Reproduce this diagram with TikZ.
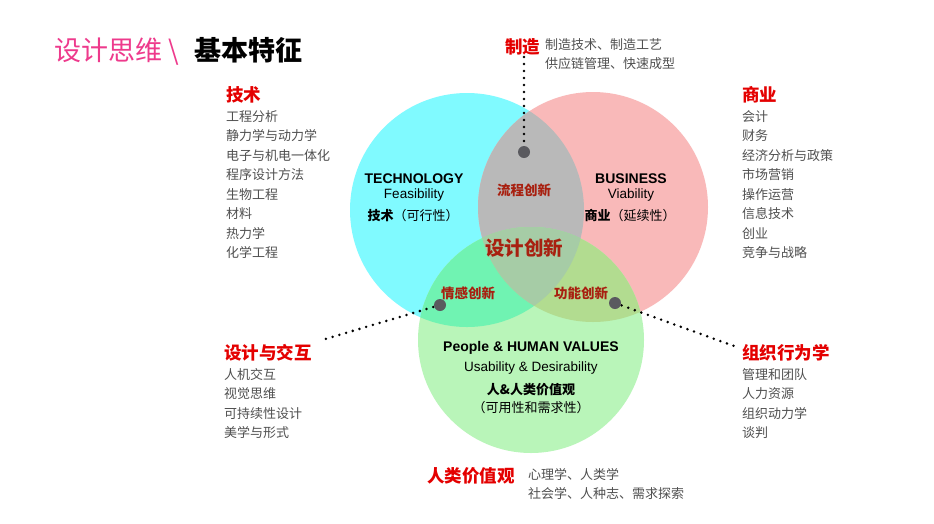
\documentclass[tikz,border=0pt]{standalone}
\usepackage{fontspec}
\setmainfont{Liberation Sans}
\newfontfamily\cjk{Noto Sans CJK SC}
\definecolor{cyanc}{HTML}{80FAFF}
\definecolor{pinkc}{HTML}{F9B9B9}
\definecolor{greenc}{HTML}{B9F5B9}
\definecolor{greyc}{HTML}{B9B9B9}
\definecolor{mintc}{HTML}{70F3B2}
\definecolor{olivec}{HTML}{B2DC90}
\definecolor{tric}{HTML}{A6CCA6}
\definecolor{dotc}{HTML}{5A5A5F}
\definecolor{titlepink}{HTML}{EE3A8C}
\definecolor{labred}{HTML}{E40000}
\definecolor{darkred}{HTML}{A82010}
\definecolor{itemgrey}{HTML}{505050}
\tikzset{
  redlab/.style={inner sep=0pt, anchor=base west, text=labred, font=\cjk\bfseries\fontsize{17.5}{20}\selectfont},
  itemlist/.style={inner sep=0pt, anchor=north west, align=left, text=itemgrey, font=\cjk\fontsize{13}{19.5}\selectfont},
  entitle/.style={inner sep=0pt, anchor=base, font=\bfseries\fontsize{14}{16}\selectfont},
  ensub/.style={inner sep=0pt, anchor=base, font=\fontsize{13.5}{16}\selectfont},
  zhsub/.style={inner sep=0pt, anchor=base, font=\cjk\fontsize{13}{16}\selectfont},
  innov/.style={inner sep=0pt, anchor=base, text=darkred, font=\cjk\bfseries\fontsize{13.5}{16}\selectfont},
  dotline/.style={line width=2.8pt, line cap=round, dash pattern=on 0pt off 7pt},
  bigdot/.style={circle, fill=dotc, minimum size=12pt, inner sep=0pt}
}
\begin{document}
\begin{tikzpicture}[x=1pt,y=-1pt]
\useasboundingbox[fill=white] (0,0) rectangle (934,523);
% circles
\def\cyanpath{(467,210) circle (117)}
\def\pinkpath{(593,207) circle (115)}
\def\greenpath{(531,340) circle (113)}
\fill[cyanc] \cyanpath;
\fill[pinkc] \pinkpath;
\fill[greenc] \greenpath;
\begin{scope}\clip \cyanpath; \fill[greyc] \pinkpath; \end{scope}
\begin{scope}\clip \cyanpath; \fill[mintc] \greenpath; \end{scope}
\begin{scope}\clip \pinkpath; \fill[olivec] \greenpath; \end{scope}
\begin{scope}\clip \cyanpath; \clip \pinkpath; \fill[tric] \greenpath; \end{scope}

% title
\node[inner sep=0pt, anchor=base west, text=titlepink, font=\cjk\fontsize{27}{30}\selectfont] (t1) at (54,60) {设计思维 \textbackslash};
\node[inner sep=0pt, anchor=base west, font=\cjk\bfseries\fontsize{27}{30}\selectfont] (t2) at (194,60) {基本特征};

% top: manufacturing
\node[redlab] (zz) at (505,53) {制造};
\node[inner sep=0pt, anchor=north west, align=left, text=itemgrey, font=\cjk\fontsize{13}{19.5}\selectfont] (zzl) at (545,38) {制造技术、制造工艺\\供应链管理、快速成型};

% technology
\node[redlab] (js) at (226,101) {技术};
\node[itemlist] (jsl) at (226,110) {工程分析\\静力学与动力学\\电子与机电一体化\\程序设计方法\\生物工程\\材料\\热力学\\化学工程};

% business
\node[redlab] (sy) at (742,101) {商业};
\node[itemlist] (syl) at (742,110) {会计\\财务\\经济分析与政策\\市场营销\\操作运营\\信息技术\\创业\\竞争与战略};

% design & interaction
\node[redlab] (sj) at (224,359) {设计与交互};
\node[itemlist] (sjl) at (224,368) {人机交互\\视觉思维\\可持续性设计\\美学与形式};

% org behaviour
\node[redlab] (zz2) at (742,359) {组织行为学};
\node[itemlist] (zzl2) at (742,368) {管理和团队\\人力资源\\组织动力学\\谈判};

% human values bottom
\node[redlab] (rl) at (427,482) {人类价值观};
\node[itemlist] (rll) at (528,468) {心理学、人类学\\社会学、人种志、需求探索};

% circle texts
\node[entitle] (tech) at (414,183) {TECHNOLOGY};
\node[ensub] (feas) at (414,198) {Feasibility};
\node[zhsub] (techzh) at (413,220) {{\bfseries 技术}（可行性）};
\node[entitle] (bus) at (631,183) {BUSINESS};
\node[ensub] (via) at (631,198) {Viability};
\node[zhsub] (buszh) at (630,220) {{\bfseries 商业}（延续性）};
\node[entitle] (ppl) at (531,351) {People \& HUMAN VALUES};
\node[ensub] (usab) at (531,371) {Usability \& Desirability};
\node[zhsub, font=\cjk\bfseries\fontsize{13}{16}\selectfont] (rzh) at (531,394) {人\&人类价值观};
\node[zhsub] (rzh2) at (531,412) {（可用性和需求性）};

\node[innov] (lc) at (524,195) {流程创新};
\node[innov, font=\cjk\bfseries\fontsize{19.5}{22}\selectfont] (sjcx) at (524,255) {设计创新};
\node[innov] (qg) at (468,298) {情感创新};
\node[innov] (gn) at (581,298) {功能创新};

% dots and dotted connectors
\coordinate (ztop) at (524,56);
\coordinate (lend) at (322,340);
\coordinate (rend) at (734,346);
\draw[dotline] (524,148) -- (ztop);
\draw[dotline] (440,305) -- (lend);
\draw[dotline] (615,303) -- (rend);
\node[bigdot] (d1) at (524,152) {};
\node[bigdot] (d2) at (440,305) {};
\node[bigdot] (d3) at (615,303) {};
\end{tikzpicture}
\end{document}
